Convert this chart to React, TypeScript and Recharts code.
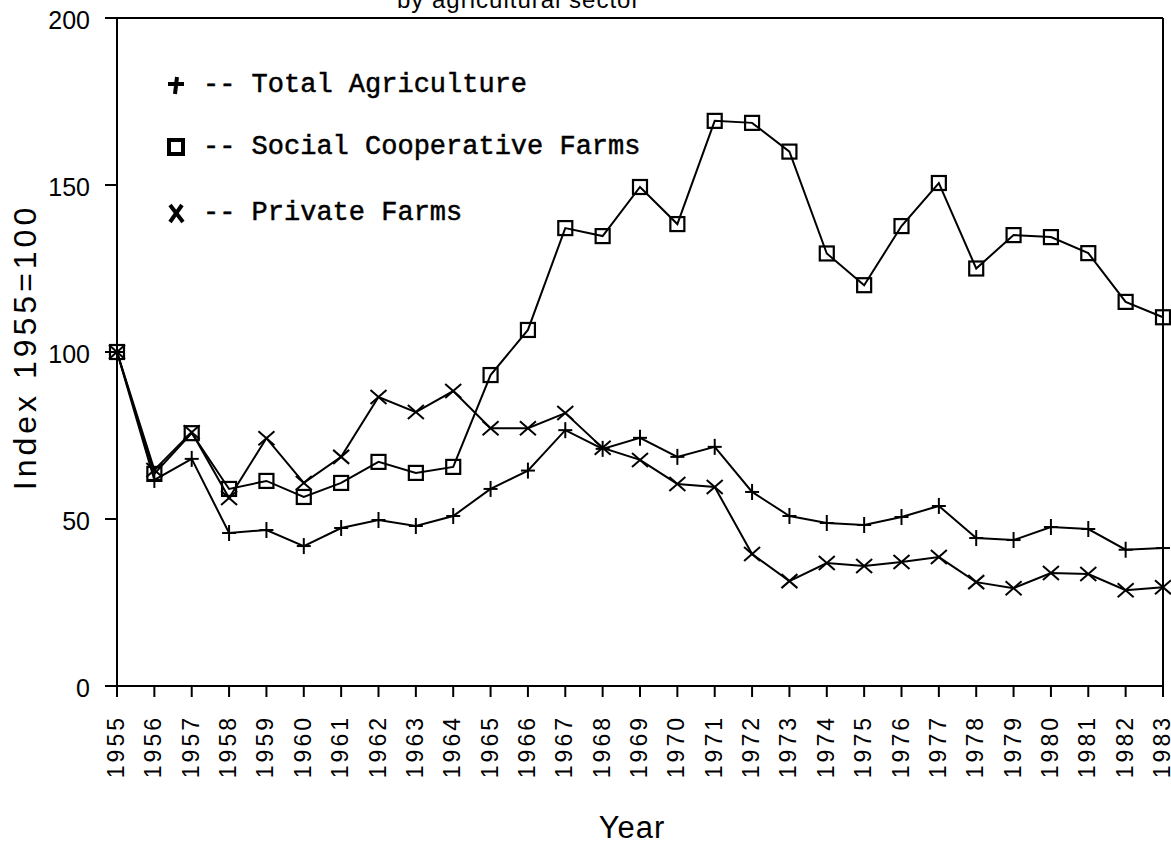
import {
  LineChart,
  Line,
  XAxis,
  YAxis,
  ReferenceLine,
} from "recharts";

// years on the x axis
const years = [
  1955, 1956, 1957, 1958, 1959, 1960, 1961, 1962, 1963, 1964, 1965, 1966, 1967,
  1968, 1969, 1970, 1971, 1972, 1973, 1974, 1975, 1976, 1977, 1978, 1979, 1980,
  1981, 1982, 1983,
];

// index values, 1955 = 100
const totalAgriculture = [
  100, 61.7, 68, 45.8, 46.7, 41.9, 47.3, 49.7, 47.9, 50.9, 59.0, 64.5, 76.6,
  71.0, 74.3, 68.6, 71.6, 58.1, 50.9, 48.8, 48.2, 50.6, 53.9, 44.3, 43.7, 47.6,
  47.0, 40.8, 41.3,
];
const socialCoop = [
  100, 63.5, 75.7, 59.0, 61.4, 56.6, 60.8, 67.1, 63.8, 65.6, 93.1, 106.6, 137.1,
  134.7, 149.4, 138.3, 169.2, 168.6, 160.0, 129.5, 120.0, 137.7, 150.6, 125.0,
  135.0, 134.4, 129.6, 115.0, 110.4,
];
const privateFarms = [
  100, 64.7, 76.0, 56.3, 74.2, 60.8, 68.6, 86.5, 82.0, 88.3, 77.2, 77.2, 81.7,
  71.3, 67.7, 60.5, 59.6, 39.5, 31.4, 36.8, 35.9, 37.1, 38.6, 31.1, 29.3, 33.8,
  33.5, 28.7, 29.6,
];

const yTicks = [0, 50, 100, 150, 200];

const chartData = years.map((year, i) => ({
  year,
  total: totalAgriculture[i],
  coop: socialCoop[i],
  priv: privateFarms[i],
}));

const SANS = "'Liberation Sans', Arial, sans-serif";
const MONO = "'Liberation Mono', 'Courier New', monospace";

// marker shapes
const PlusDot = (props: any) => {
  const { cx, cy, index } = props;
  if (cx == null || cy == null) return <g key={index} />;
  return (
    <g key={`p${index}`} stroke="#000" strokeWidth={2}>
      <line x1={cx - 7} y1={cy} x2={cx + 7} y2={cy} />
      <line x1={cx} y1={cy - 8} x2={cx} y2={cy + 8} />
    </g>
  );
};

const SquareDot = (props: any) => {
  const { cx, cy, index } = props;
  if (cx == null || cy == null) return <g key={index} />;
  return (
    <rect
      key={`s${index}`}
      x={cx - 7}
      y={cy - 7}
      width={14}
      height={14}
      fill="none"
      stroke="#000"
      strokeWidth={2.2}
    />
  );
};

const CrossDot = (props: any) => {
  const { cx, cy, index } = props;
  if (cx == null || cy == null) return <g key={index} />;
  return (
    <g key={`x${index}`} stroke="#000" strokeWidth={2}>
      <line x1={cx - 8} y1={cy - 7} x2={cx + 8} y2={cy + 7} />
      <line x1={cx - 8} y1={cy + 7} x2={cx + 8} y2={cy - 7} />
    </g>
  );
};

const XTick = (props: any) => {
  const { x, y, payload } = props;
  const ty = y + 16;
  const tx = x - 1;
  return (
    <text
      x={tx}
      y={ty}
      transform={`rotate(-90 ${tx} ${ty})`}
      textAnchor="end"
      dominantBaseline="central"
      fontFamily={SANS}
      fontSize={23}
      letterSpacing={3}
      fill="#000"
    >
      {payload.value}
    </text>
  );
};

const legendRows = [
  { label: "-- Total Agriculture", kind: "plus", y: 25 },
  { label: "-- Social Cooperative Farms", kind: "square", y: 87 },
  { label: "-- Private Farms", kind: "cross", y: 153 },
];

const LegendBox = () => (
  <svg width={520} height={190} style={{ display: "block" }}>
    {legendRows.map((r) => (
      <g key={r.label}>
        {r.kind === "plus" && (
          <g stroke="#000" strokeWidth={4}>
            <line x1={8} y1={r.y - 1} x2={24} y2={r.y - 1} />
            <line x1={17} y1={r.y - 8} x2={15} y2={r.y + 9} />
          </g>
        )}
        {r.kind === "square" && (
          <rect x={9} y={r.y - 7} width={14} height={14} fill="none" stroke="#000" strokeWidth={4} />
        )}
        {r.kind === "cross" && (
          <g stroke="#000" strokeWidth={4}>
            <line x1={10} y1={r.y - 8} x2={23} y2={r.y + 9} />
            <line x1={22} y1={r.y - 8} x2={10} y2={r.y + 9} />
          </g>
        )}
        <text
          x={43}
          y={r.y}
          dominantBaseline="central"
          fontFamily={MONO}
          fontSize={27}
          stroke="#000"
          strokeWidth={0.5}
          fill="#000"
        >
          {r.label}
        </text>
      </g>
    ))}
  </svg>
);

const App = () => {
  return (
    <div style={{ position: "absolute", left: 0, top: 0, width: 1171, height: 846, background: "#fff" }}>
      <LineChart
        width={1171}
        height={846}
        data={chartData}
        margin={{ top: 18, right: 8, left: 0, bottom: 0 }}
      >
        <XAxis
          dataKey="year"
          type="number"
          domain={[1955, 1983]}
          ticks={years}
          interval={0}
          height={160}
          tickSize={11}
          stroke="#000"
          strokeWidth={2}
          tick={<XTick />}
          label={{
            content: () => (
              <text
                x={632}
                y={838}
                textAnchor="middle"
                fontFamily={SANS}
                fontSize={31}
                letterSpacing={1}
                fill="#000"
              >
                Year
              </text>
            ),
          }}
        />
        <YAxis
          type="number"
          domain={[0, 200]}
          ticks={yTicks}
          width={117}
          tickSize={12}
          tickMargin={15}
          stroke="#000"
          strokeWidth={2}
          tick={{ fill: "#000", fontFamily: SANS, fontSize: 25, dy: 2 }}
          label={{
            content: () => (
              <text
                x={25}
                y={347}
                transform="rotate(-90 25 347)"
                textAnchor="middle"
                dominantBaseline="central"
                fontFamily={SANS}
                fontSize={32}
                letterSpacing={4}
                fill="#000"
              >
                Index 1955=100
              </text>
            ),
          }}
        />
        <ReferenceLine
          y={200}
          stroke="#000"
          strokeWidth={2}
          label={{
            content: () => (
              <text x={397} y={8} fontFamily={SANS} fontSize={24} letterSpacing={1} fill="#000">
                by agricultural sector
              </text>
            ),
          }}
        />
        <ReferenceLine x={1983} stroke="#000" strokeWidth={2} />
        <Line
          type="linear"
          dataKey="total"
          stroke="#000"
          strokeWidth={2}
          dot={PlusDot}
          activeDot={false}
          isAnimationActive={false}
        />
        <Line
          type="linear"
          dataKey="coop"
          stroke="#000"
          strokeWidth={2}
          dot={SquareDot}
          activeDot={false}
          isAnimationActive={false}
        />
        <Line
          type="linear"
          dataKey="priv"
          stroke="#000"
          strokeWidth={2}
          dot={CrossDot}
          activeDot={false}
          isAnimationActive={false}
        />
      </LineChart>
      <div style={{ position: "absolute", left: 160, top: 60 }}>
        <LegendBox />
      </div>
    </div>
  );
};

export default App;
